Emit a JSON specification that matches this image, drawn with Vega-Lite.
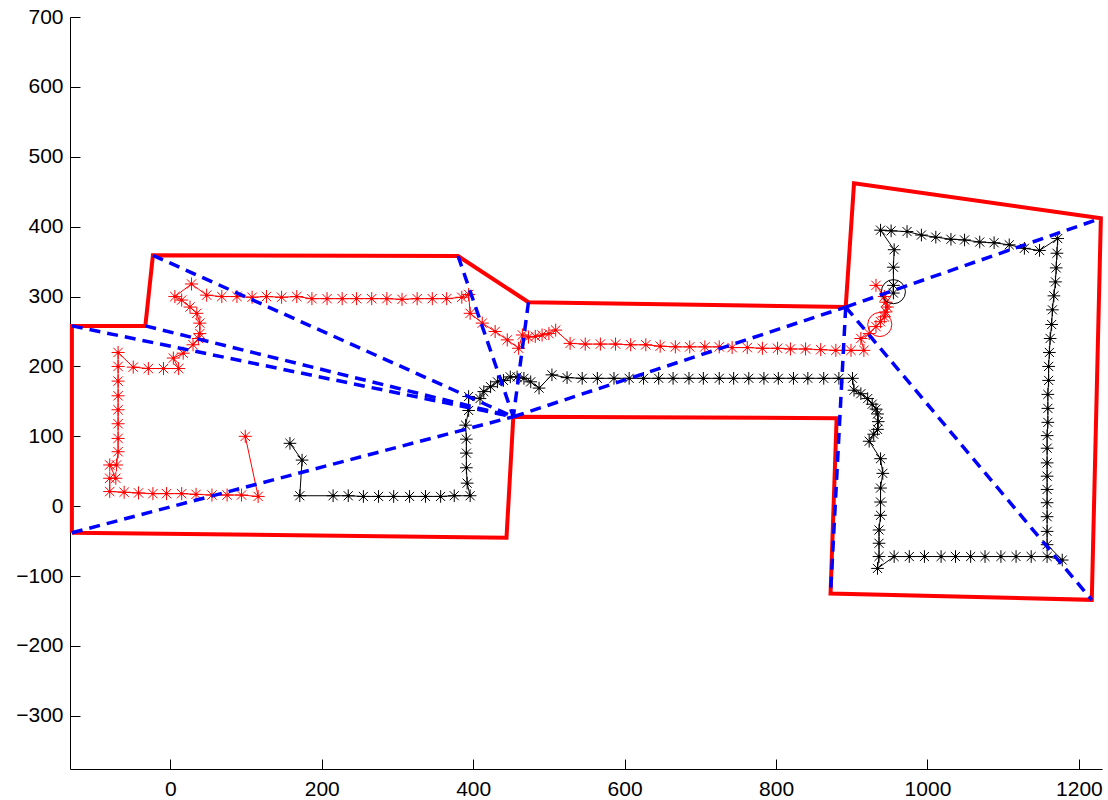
{
  "$schema": "https://vega.github.io/schema/vega-lite/v6.json",
  "width": 1032,
  "height": 752,
  "autosize": {"type": "none"},
  "padding": {"left": 70, "top": 17, "right": 6, "bottom": 31},
  "background": "white",
  "config": {
    "view": {"stroke": null},
    "axis": {
      "grid": false,
      "domainColor": "#000000",
      "domainWidth": 1,
      "tickColor": "#000000",
      "tickWidth": 1,
      "labelColor": "#000000",
      "labelFont": "Liberation Sans",
      "labelFontSize": 21,
      "labelFlush": false,
      "labelOverlap": false,
      "title": null
    }
  },
  "datasets": {
    "walls": [
      {"i": 1, "x": -130, "y": -38},
      {"i": 2, "x": -130, "y": 258},
      {"i": 3, "x": -33, "y": 258},
      {"i": 4, "x": -23, "y": 359},
      {"i": 5, "x": 380, "y": 358},
      {"i": 6, "x": 473, "y": 292},
      {"i": 7, "x": 892, "y": 285},
      {"i": 8, "x": 903, "y": 462},
      {"i": 9, "x": 1229, "y": 412},
      {"i": 10, "x": 1217, "y": -134},
      {"i": 11, "x": 872, "y": -125},
      {"i": 12, "x": 880, "y": 126},
      {"i": 13, "x": 453, "y": 128},
      {"i": 14, "x": 444, "y": -45},
      {"i": 15, "x": -130, "y": -38}
    ],
    "views": [
      {"x": -130, "y": -38, "x2": 453, "y2": 128},
      {"x": -130, "y": 258, "x2": 453, "y2": 128},
      {"x": -33, "y": 258, "x2": 453, "y2": 128},
      {"x": -23, "y": 359, "x2": 453, "y2": 128},
      {"x": 380, "y": 358, "x2": 453, "y2": 128},
      {"x": 473, "y": 292, "x2": 453, "y2": 128},
      {"x": 453, "y": 128, "x2": 892, "y2": 285},
      {"x": 892, "y": 285, "x2": 1229, "y2": 412},
      {"x": 892, "y": 285, "x2": 1217, "y2": -134},
      {"x": 892, "y": 285, "x2": 872, "y2": -125}
    ],
    "red": [
      {"i": 1, "x": 99, "y": 100}, {"i": 2, "x": 116, "y": 14}, {"i": 3, "x": 94, "y": 16},
      {"i": 4, "x": 75, "y": 16}, {"i": 5, "x": 55, "y": 16}, {"i": 6, "x": 34, "y": 17},
      {"i": 7, "x": 15, "y": 18}, {"i": 8, "x": -5, "y": 18}, {"i": 9, "x": -23, "y": 18},
      {"i": 10, "x": -42, "y": 19}, {"i": 11, "x": -61, "y": 20}, {"i": 12, "x": -80, "y": 21},
      {"i": 13, "x": -80, "y": 40}, {"i": 14, "x": -72, "y": 40}, {"i": 15, "x": -80, "y": 59},
      {"i": 16, "x": -71, "y": 59}, {"i": 17, "x": -69, "y": 78}, {"i": 18, "x": -69, "y": 97},
      {"i": 19, "x": -69, "y": 118}, {"i": 20, "x": -69, "y": 138}, {"i": 21, "x": -69, "y": 158},
      {"i": 22, "x": -69, "y": 179}, {"i": 23, "x": -69, "y": 200}, {"i": 24, "x": -69, "y": 220},
      {"i": 25, "x": -49, "y": 199}, {"i": 26, "x": -29, "y": 197}, {"i": 27, "x": -9, "y": 197},
      {"i": 28, "x": 11, "y": 197}, {"i": 29, "x": 4, "y": 212}, {"i": 30, "x": 17, "y": 219},
      {"i": 31, "x": 30, "y": 231}, {"i": 32, "x": 37, "y": 240}, {"i": 33, "x": 39, "y": 247},
      {"i": 34, "x": 39, "y": 262}, {"i": 35, "x": 35, "y": 276}, {"i": 36, "x": 26, "y": 285},
      {"i": 37, "x": 15, "y": 295}, {"i": 38, "x": 6, "y": 300}, {"i": 39, "x": 28, "y": 318},
      {"i": 40, "x": 48, "y": 302}, {"i": 41, "x": 68, "y": 300}, {"i": 42, "x": 88, "y": 300},
      {"i": 43, "x": 108, "y": 299}, {"i": 44, "x": 127, "y": 300}, {"i": 45, "x": 147, "y": 299},
      {"i": 46, "x": 167, "y": 300}, {"i": 47, "x": 187, "y": 297}, {"i": 48, "x": 207, "y": 297},
      {"i": 49, "x": 227, "y": 297}, {"i": 50, "x": 246, "y": 297}, {"i": 51, "x": 266, "y": 297},
      {"i": 52, "x": 286, "y": 297}, {"i": 53, "x": 306, "y": 296}, {"i": 54, "x": 326, "y": 297},
      {"i": 55, "x": 346, "y": 297}, {"i": 56, "x": 365, "y": 297}, {"i": 57, "x": 385, "y": 299},
      {"i": 58, "x": 394, "y": 303}, {"i": 59, "x": 396, "y": 276}, {"i": 60, "x": 412, "y": 262},
      {"i": 61, "x": 429, "y": 250}, {"i": 62, "x": 445, "y": 238}, {"i": 63, "x": 460, "y": 226},
      {"i": 64, "x": 465, "y": 245}, {"i": 65, "x": 473, "y": 242}, {"i": 66, "x": 482, "y": 243},
      {"i": 67, "x": 491, "y": 245}, {"i": 68, "x": 500, "y": 247}, {"i": 69, "x": 509, "y": 252},
      {"i": 70, "x": 528, "y": 233}, {"i": 71, "x": 548, "y": 232}, {"i": 72, "x": 568, "y": 232},
      {"i": 73, "x": 588, "y": 232}, {"i": 74, "x": 608, "y": 231}, {"i": 75, "x": 628, "y": 231},
      {"i": 76, "x": 647, "y": 229}, {"i": 77, "x": 667, "y": 228}, {"i": 78, "x": 686, "y": 228},
      {"i": 79, "x": 706, "y": 228}, {"i": 80, "x": 725, "y": 228}, {"i": 81, "x": 742, "y": 227},
      {"i": 82, "x": 762, "y": 227}, {"i": 83, "x": 782, "y": 226}, {"i": 84, "x": 802, "y": 226},
      {"i": 85, "x": 819, "y": 225}, {"i": 86, "x": 839, "y": 225}, {"i": 87, "x": 859, "y": 224},
      {"i": 88, "x": 879, "y": 223}, {"i": 89, "x": 899, "y": 223}, {"i": 90, "x": 916, "y": 223},
      {"i": 91, "x": 912, "y": 240}, {"i": 92, "x": 923, "y": 247}, {"i": 93, "x": 932, "y": 257},
      {"i": 94, "x": 938, "y": 264}, {"i": 95, "x": 943, "y": 271}, {"i": 96, "x": 945, "y": 278},
      {"i": 97, "x": 947, "y": 285}, {"i": 98, "x": 945, "y": 292}, {"i": 99, "x": 943, "y": 300},
      {"i": 100, "x": 932, "y": 316}
    ],
    "black": [
      {"i": 1, "x": 158, "y": 90}, {"i": 2, "x": 174, "y": 66}, {"i": 3, "x": 171, "y": 15},
      {"i": 4, "x": 215, "y": 15}, {"i": 5, "x": 235, "y": 15}, {"i": 6, "x": 255, "y": 14},
      {"i": 7, "x": 275, "y": 14}, {"i": 8, "x": 295, "y": 14}, {"i": 9, "x": 316, "y": 14},
      {"i": 10, "x": 337, "y": 14}, {"i": 11, "x": 357, "y": 14}, {"i": 12, "x": 375, "y": 15},
      {"i": 13, "x": 396, "y": 15}, {"i": 14, "x": 392, "y": 33}, {"i": 15, "x": 391, "y": 55},
      {"i": 16, "x": 391, "y": 76}, {"i": 17, "x": 391, "y": 96}, {"i": 18, "x": 390, "y": 116},
      {"i": 19, "x": 394, "y": 137}, {"i": 20, "x": 394, "y": 157}, {"i": 21, "x": 409, "y": 154},
      {"i": 22, "x": 414, "y": 164}, {"i": 23, "x": 423, "y": 171}, {"i": 24, "x": 432, "y": 178},
      {"i": 25, "x": 440, "y": 180}, {"i": 26, "x": 449, "y": 185}, {"i": 27, "x": 458, "y": 185},
      {"i": 28, "x": 467, "y": 183}, {"i": 29, "x": 476, "y": 178}, {"i": 30, "x": 487, "y": 169},
      {"i": 31, "x": 504, "y": 188}, {"i": 32, "x": 524, "y": 184}, {"i": 33, "x": 544, "y": 183},
      {"i": 34, "x": 564, "y": 183}, {"i": 35, "x": 586, "y": 183}, {"i": 36, "x": 606, "y": 183},
      {"i": 37, "x": 625, "y": 183}, {"i": 38, "x": 645, "y": 183}, {"i": 39, "x": 664, "y": 183},
      {"i": 40, "x": 685, "y": 183}, {"i": 41, "x": 704, "y": 183}, {"i": 42, "x": 725, "y": 183},
      {"i": 43, "x": 744, "y": 183}, {"i": 44, "x": 764, "y": 183}, {"i": 45, "x": 784, "y": 183},
      {"i": 46, "x": 803, "y": 183}, {"i": 47, "x": 823, "y": 183}, {"i": 48, "x": 842, "y": 183},
      {"i": 49, "x": 863, "y": 183}, {"i": 50, "x": 883, "y": 183}, {"i": 51, "x": 901, "y": 183},
      {"i": 52, "x": 903, "y": 166}, {"i": 53, "x": 912, "y": 161}, {"i": 54, "x": 921, "y": 154},
      {"i": 55, "x": 927, "y": 146}, {"i": 56, "x": 932, "y": 139}, {"i": 57, "x": 934, "y": 132},
      {"i": 58, "x": 935, "y": 121}, {"i": 59, "x": 934, "y": 110}, {"i": 60, "x": 929, "y": 103},
      {"i": 61, "x": 923, "y": 93}, {"i": 62, "x": 938, "y": 68}, {"i": 63, "x": 941, "y": 47},
      {"i": 64, "x": 938, "y": 26}, {"i": 65, "x": 938, "y": 6}, {"i": 66, "x": 938, "y": -13},
      {"i": 67, "x": 936, "y": -34}, {"i": 68, "x": 936, "y": -53}, {"i": 69, "x": 936, "y": -72},
      {"i": 70, "x": 934, "y": -89}, {"i": 71, "x": 956, "y": -72}, {"i": 72, "x": 976, "y": -72},
      {"i": 73, "x": 996, "y": -72}, {"i": 74, "x": 1018, "y": -72}, {"i": 75, "x": 1037, "y": -72},
      {"i": 76, "x": 1057, "y": -72}, {"i": 77, "x": 1076, "y": -72}, {"i": 78, "x": 1097, "y": -72},
      {"i": 79, "x": 1117, "y": -72}, {"i": 80, "x": 1137, "y": -72}, {"i": 81, "x": 1158, "y": -72},
      {"i": 82, "x": 1178, "y": -77}, {"i": 83, "x": 1158, "y": -55}, {"i": 84, "x": 1158, "y": -36},
      {"i": 85, "x": 1158, "y": -15}, {"i": 86, "x": 1158, "y": 5}, {"i": 87, "x": 1158, "y": 24},
      {"i": 88, "x": 1158, "y": 43}, {"i": 89, "x": 1158, "y": 62}, {"i": 90, "x": 1158, "y": 83},
      {"i": 91, "x": 1158, "y": 101}, {"i": 92, "x": 1159, "y": 120}, {"i": 93, "x": 1159, "y": 140},
      {"i": 94, "x": 1159, "y": 160}, {"i": 95, "x": 1160, "y": 180}, {"i": 96, "x": 1160, "y": 200},
      {"i": 97, "x": 1161, "y": 220}, {"i": 98, "x": 1162, "y": 240}, {"i": 99, "x": 1164, "y": 260},
      {"i": 100, "x": 1165, "y": 281}, {"i": 101, "x": 1167, "y": 301}, {"i": 102, "x": 1169, "y": 321},
      {"i": 103, "x": 1170, "y": 341}, {"i": 104, "x": 1171, "y": 362}, {"i": 105, "x": 1172, "y": 383},
      {"i": 106, "x": 1148, "y": 366}, {"i": 107, "x": 1128, "y": 369}, {"i": 108, "x": 1108, "y": 374},
      {"i": 109, "x": 1088, "y": 377}, {"i": 110, "x": 1069, "y": 378}, {"i": 111, "x": 1049, "y": 381},
      {"i": 112, "x": 1031, "y": 382}, {"i": 113, "x": 1011, "y": 385}, {"i": 114, "x": 992, "y": 388},
      {"i": 115, "x": 973, "y": 393}, {"i": 116, "x": 952, "y": 394}, {"i": 117, "x": 938, "y": 395},
      {"i": 118, "x": 956, "y": 367}, {"i": 119, "x": 955, "y": 342}, {"i": 120, "x": 955, "y": 316},
      {"i": 121, "x": 955, "y": 305}
    ],
    "circles": [
      {"x": 955, "y": 307, "c": "black"},
      {"x": 937, "y": 260, "c": "red"}
    ]
  },
  "encoding": {
    "x": {
      "field": "x",
      "type": "quantitative",
      "scale": {"domain": [-132.5, 1230.5], "nice": false, "zero": false},
      "axis": {"values": [0, 200, 400, 600, 800, 1000, 1200], "format": "d", "ticks": true, "tickSize": -10, "labelPadding": 19}
    },
    "y": {
      "field": "y",
      "type": "quantitative",
      "scale": {"domain": [-376, 700], "nice": false, "zero": false},
      "axis": {"values": [-300, -200, -100, 0, 100, 200, 300, 400, 500, 600, 700], "format": "d", "ticks": true, "tickSize": -10, "labelPadding": 17}
    }
  },
  "layer": [
    {
      "data": {"name": "black"},
      "mark": {"type": "line", "color": "#000000", "strokeWidth": 1},
      "encoding": {"order": {"field": "i", "type": "quantitative"}}
    },
    {
      "data": {"name": "black"},
      "mark": {"type": "point", "shape": "M-1,0H1M0,-1V1M-0.72,-0.72L0.72,0.72M-0.72,0.72L0.72,-0.72", "filled": false, "stroke": "#000000", "strokeWidth": 1, "size": 160, "opacity": 1}
    },
    {
      "data": {"name": "black"},
      "mark": {"type": "point", "shape": "circle", "filled": true, "color": "#000000", "size": 9, "opacity": 1}
    },
    {
      "data": {"name": "red"},
      "mark": {"type": "line", "color": "#ff0000", "strokeWidth": 1},
      "encoding": {"order": {"field": "i", "type": "quantitative"}}
    },
    {
      "data": {"name": "red"},
      "mark": {"type": "point", "shape": "M-1,0H1M0,-1V1M-0.72,-0.72L0.72,0.72M-0.72,0.72L0.72,-0.72", "filled": false, "stroke": "#ff0000", "strokeWidth": 1, "size": 170, "opacity": 1}
    },
    {
      "data": {"name": "red"},
      "mark": {"type": "point", "shape": "circle", "filled": true, "color": "#ff0000", "size": 9, "opacity": 1}
    },
    {
      "data": {"name": "circles"},
      "mark": {"type": "point", "shape": "circle", "filled": false, "strokeWidth": 1, "size": 580, "opacity": 1},
      "encoding": {
        "stroke": {"field": "c", "type": "nominal", "scale": {"domain": ["black", "red"], "range": ["#000000", "#ff0000"]}, "legend": null}
      }
    },
    {
      "data": {"name": "walls"},
      "mark": {"type": "line", "color": "#ff0000", "strokeWidth": 4, "strokeJoin": "miter"},
      "encoding": {"order": {"field": "i", "type": "quantitative"}}
    },
    {
      "data": {"name": "views"},
      "mark": {"type": "rule", "color": "#0000ff", "strokeWidth": 3.5, "strokeDash": [11, 7]},
      "encoding": {
        "x2": {"field": "x2"},
        "y2": {"field": "y2"}
      }
    }
  ]
}
